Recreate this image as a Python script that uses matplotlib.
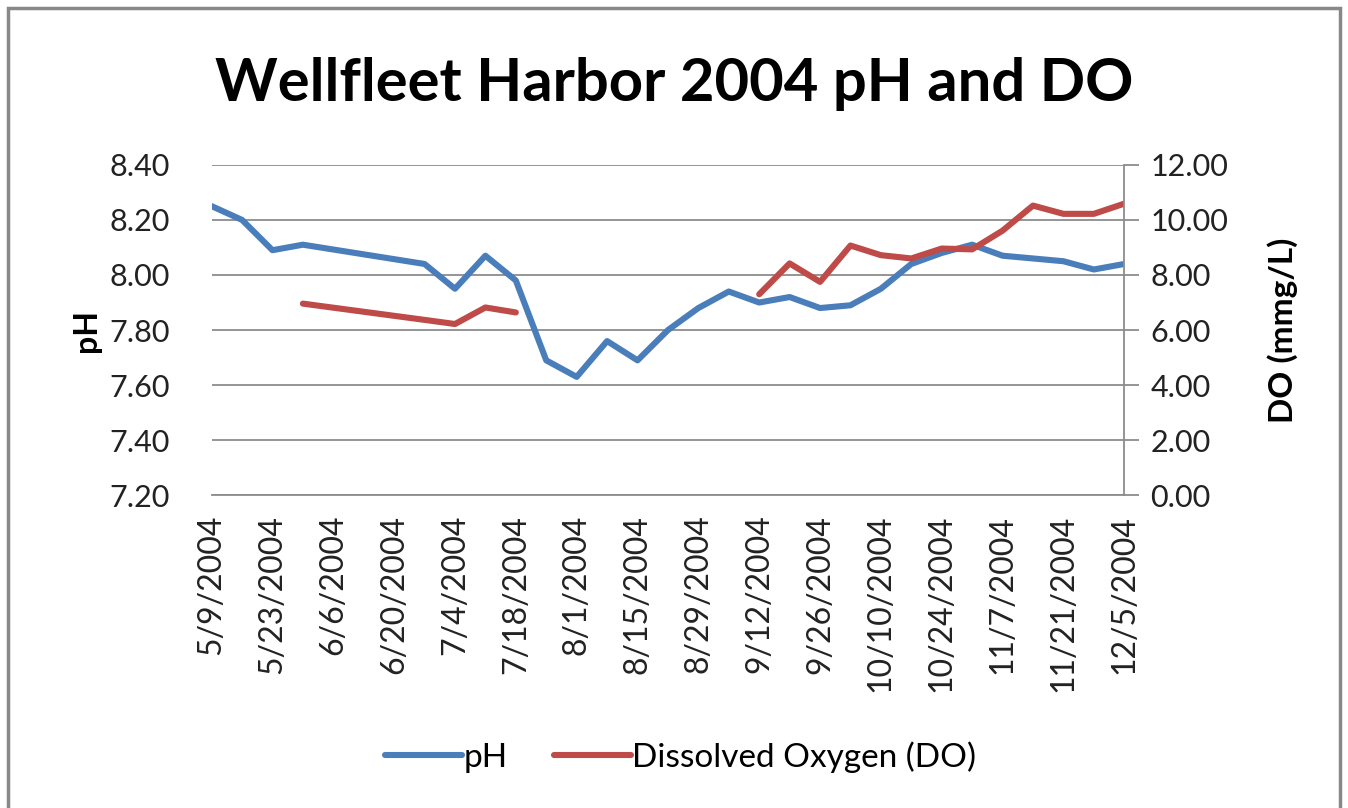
import matplotlib
matplotlib.use("Agg")
import matplotlib.pyplot as plt
from matplotlib.patches import Rectangle
import numpy as np
import datetime as dt

plt.rcParams['font.family'] = ['Lato', 'DejaVu Sans']

# sample dates (2004)
dates = ["5/9", "5/16", "5/23", "5/30", "6/27", "7/4", "7/11", "7/18", "7/25",
         "8/1", "8/8", "8/15", "8/22", "8/29", "9/5", "9/12", "9/19", "9/26",
         "10/3", "10/10", "10/17", "10/24", "10/31", "11/7", "11/14", "11/21",
         "11/28", "12/5"]
ph = [8.25, 8.20, 8.09, 8.11, 8.04, 7.95, 8.07, 7.98, 7.69,
      7.63, 7.76, 7.69, 7.80, 7.88, 7.94, 7.90, 7.92, 7.88,
      7.89, 7.95, 8.04, 8.08, 8.11, 8.07, 8.06, 8.05,
      8.02, 8.04]
do = [np.nan, np.nan, np.nan, 6.96, 6.37, 6.22, 6.82, 6.64, np.nan,
      np.nan, np.nan, np.nan, np.nan, np.nan, np.nan, 7.30, 8.42, 7.75,
      9.07, 8.72, 8.60, 8.96, 8.93, 9.61, 10.52, 10.22,
      10.22, 10.59]

x = [dt.date(2004, int(d.split("/")[0]), int(d.split("/")[1])) for d in dates]

blue = "#4A7EBB"
red = "#BE4B48"
grid = "#8C8C8C"

fig = plt.figure(figsize=(13.48, 8.08), dpi=100)
ax = fig.add_axes([0.157, 0.387, 0.677, 0.409])
ax2 = ax.twinx()

l1, = ax.plot(x, ph, color=blue, lw=4.4, solid_capstyle='round', solid_joinstyle='round', label="pH")
l2, = ax2.plot(x, do, color=red, lw=4.4, solid_capstyle='round', solid_joinstyle='round',
               label="Dissolved Oxygen (DO)")

ax.set_xlim(x[0], x[-1])
ax.set_ylim(7.2, 8.4)
ax.set_yticks(np.arange(7.2, 8.41, 0.2))
ax.yaxis.set_major_formatter(matplotlib.ticker.FormatStrFormatter('%.2f'))
ax2.set_ylim(0, 12)
ax2.set_yticks(np.arange(0, 12.1, 2))
ax2.yaxis.set_major_formatter(matplotlib.ticker.FormatStrFormatter('%.2f'))

ticks = [x[0] + dt.timedelta(days=14 * i) for i in range(16)]
ax.set_xticks(ticks)
ax.set_xticklabels([f"{t.month}/{t.day}/{t.year}" for t in ticks], rotation=90)

ax.grid(axis='y', color=grid, lw=1.3)
ax.set_axisbelow(True)
for s in ['top', 'left', 'right']:
    ax.spines[s].set_visible(False)
for s in ['top', 'left', 'bottom']:
    ax2.spines[s].set_visible(False)
ax.spines['bottom'].set_color(grid)
ax.spines['bottom'].set_linewidth(1.3)
ax2.spines['right'].set_color(grid)
ax2.spines['right'].set_linewidth(1.3)

ax.tick_params(axis='y', length=0, labelsize=22, pad=30, labelcolor='#222222')
ax.tick_params(axis='x', length=0, labelsize=23, pad=14, labelcolor='#222222')
ax2.tick_params(axis='y', length=11, color=grid, width=1.3, labelsize=22, pad=8, labelcolor='#222222')

ax.set_ylabel("pH", fontsize=23, fontweight='bold', labelpad=6)
ax2.set_ylabel("DO (mmg/L)", fontsize=24, fontweight='bold', rotation=90, labelpad=28)

fig.suptitle("Wellfleet Harbor 2004 pH and DO", x=0.5, y=0.93, fontsize=43, fontweight='bold')

fig.legend(handles=[l1, l2], loc='center', bbox_to_anchor=(0.505, 0.063), ncol=2, frameon=False,
           fontsize=24, handlelength=2.3, columnspacing=1.4, handletextpad=0.05)

fig.patches.append(Rectangle((0.006, -0.05), 0.988, 1.04, transform=fig.transFigure,
                             fill=False, edgecolor='#888888', lw=2.5))

fig.savefig("out.png", dpi=100)
